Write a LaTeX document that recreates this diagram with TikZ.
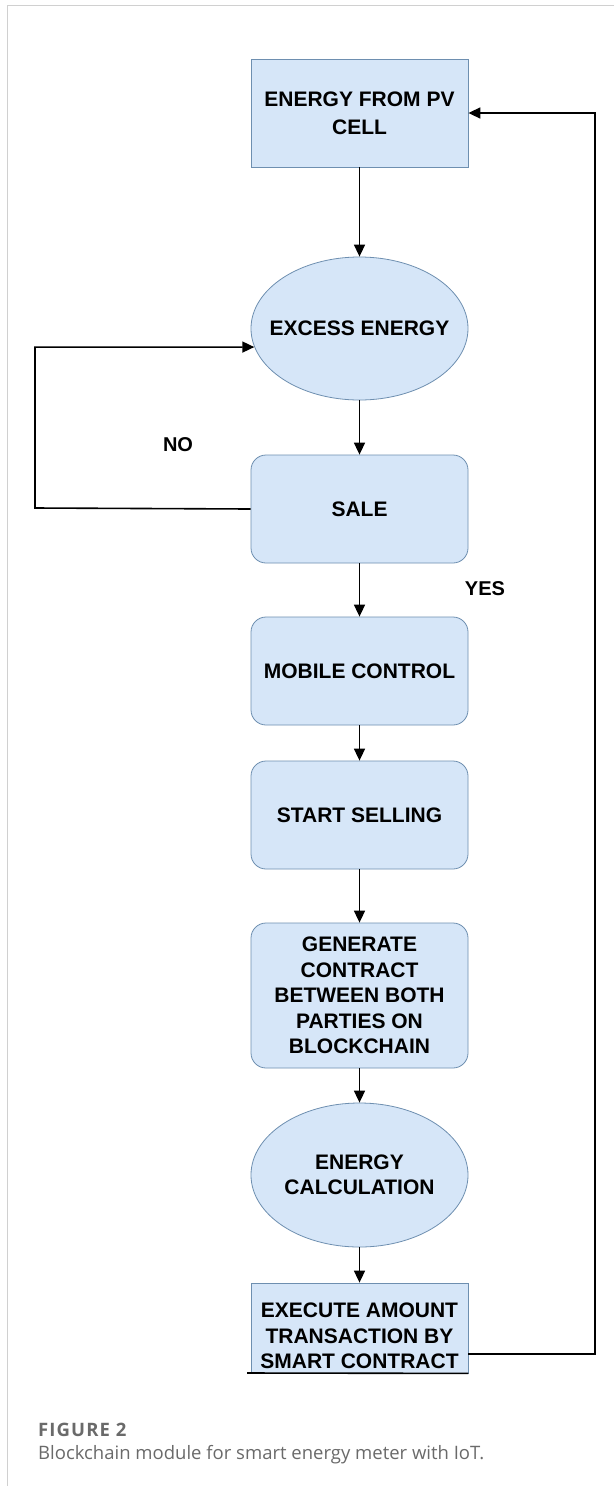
\documentclass[tikz,border=0pt]{standalone}
\usepackage{fontspec}
\setmainfont{Liberation Sans}
\newfontfamily\capfont{Open Sans}
\usetikzlibrary{shapes.geometric,arrows.meta}
\definecolor{boxfill}{HTML}{D6E6F8}
\definecolor{boxline}{HTML}{6E8FB0}
\definecolor{capgray}{HTML}{6A6A6A}
\definecolor{framegray}{HTML}{D0D0D0}
\newcommand{\fixtext}[2][-5pt]{\raisebox{#1}[0pt][0pt]{\makebox[0pt]{\parbox{216pt}{\centering #2}}}}
\tikzset{
  x=1pt, y=-1pt,
  base/.style={draw=boxline, fill=boxfill, line width=0.8pt, inner sep=0pt,
    minimum width=217pt,
    font=\fontsize{21}{25.5}\selectfont\bfseries},
  sqbox/.style={base, rectangle, minimum height=108pt},
  rbox/.style={base, rectangle, rounded corners=15pt, minimum height=108pt},
  ell/.style={base, ellipse, minimum height=143pt},
  arr/.style={line width=1.6pt, -{Triangle[length=12pt,width=11pt]}},
  lbl/.style={font=\fontsize{20}{24}\selectfont\bfseries},
}
\begin{document}
\begin{tikzpicture}
\useasboundingbox (0,0) rectangle (614,1486);
\fill[white] (0,0) rectangle (614,1486);
\draw[framegray, line width=1pt] (614,5) -- (7,5) -- (7,1486);

\node[sqbox] (pv) at (359.5,113) {\fixtext{\fontsize{21}{28}\selectfont ENERGY FROM PV\\CELL}};
\node[ell] (excess) at (359.5,328.5) {\fixtext{EXCESS ENERGY}};
\node[rbox] (sale) at (359.5,509) {\fixtext{SALE}};
\node[rbox] (mobile) at (359.5,671) {\fixtext{MOBILE CONTROL}};
\node[rbox] (start) at (359.5,815) {\fixtext{START SELLING}};
\node[rbox, minimum height=145pt] (gen) at (359.5,995.5) {\fixtext{GENERATE\\CONTRACT\\BETWEEN BOTH\\PARTIES ON\\BLOCKCHAIN}};
\node[ell, minimum height=144pt] (calc) at (359.5,1175) {\fixtext{ENERGY\\CALCULATION}};
\node[sqbox, minimum height=90pt] (exec) at (359.5,1328) {\fixtext[-13pt]{EXECUTE AMOUNT\\TRANSACTION BY\\SMART CONTRACT}};
\coordinate (ebl) at (247,1373);
\draw[black, line width=1.6pt] (ebl) -- (exec.south east);

\node[lbl] (no) at (178,445) {NO};
\node[lbl] (yes) at (485,589) {YES};

\draw[arr] (pv) -- (excess);
\draw[arr] (excess) -- (sale);
\draw[arr] (sale) -- (mobile);
\draw[arr] (mobile) -- (start);
\draw[arr] (start) -- (gen);
\draw[arr] (gen) -- (calc);
\draw[arr] (calc) -- (exec);

\coordinate (nl) at (35,508);
\draw[arr] (sale.west) -- (nl) |- (excess.190);

\coordinate (rl) at (595,1354);
\draw[arr] ([yshift=-26pt]exec.east) -- (rl) |- (pv.east);

\node[anchor=base west, inner sep=0pt, text=capgray, font=\capfont\fontsize{18.5}{22}\selectfont\bfseries\addfontfeatures{LetterSpace=6}] (fig) at (38,1436) {FIGURE 2};
\node[anchor=base west, inner sep=0pt, text=capgray, font=\capfont\fontsize{18.5}{22}\selectfont] (cap) at (38,1459) {Blockchain module for smart energy meter with IoT.};
\end{tikzpicture}
\end{document}
